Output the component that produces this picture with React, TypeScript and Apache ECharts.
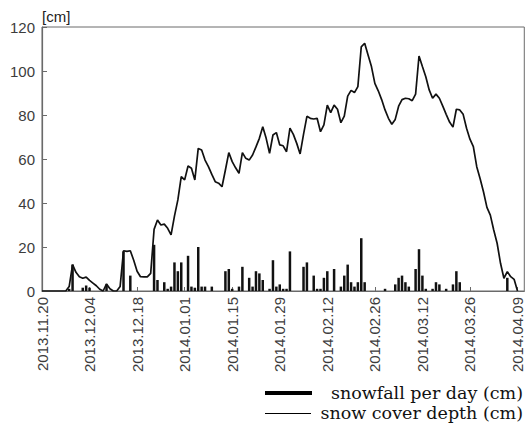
import React, { useEffect, useRef } from "react";
import * as echarts from "echarts";

const tickLabels = [
  "2013.11.20", "2013.12.04", "2013.12.18", "2014.01.01", "2014.01.15", "2014.01.29",
  "2014.02.12", "2014.02.26", "2014.03.12", "2014.03.26", "2014.04.09",
];

// snow cover depth (cm), one value per day from 2013.11.20
const snowDepth = [
  0, 0, 0, 0, 0, 0, 0, 0, 2, 12,
  8.5, 6.5, 5.8, 6.3, 4.8, 3.6, 2.4, 0.8, 0, 3.2,
  1, 0, 0, 2, 18.3, 18, 18.3, 14, 9, 6.5,
  6.4, 6.4, 8, 28, 32.3, 30, 30.4, 28.5, 25.5, 34,
  41.4, 52, 50.5, 56.8, 55.8, 50.5, 64.8, 64.1, 59.5, 56.5,
  53, 49.7, 49, 47.4, 55, 62.9, 58.8, 56, 53.5, 62.9,
  60.3, 59.5, 61.8, 65.5, 69.4, 74.7, 69.4, 62.6, 70.9, 72,
  66.4, 66, 63.3, 74, 71.2, 67.1, 62.3, 71.2, 79.4, 78.5,
  78.2, 78.5, 72.4, 75.5, 84.5, 81.1, 84.5, 82.6, 76.5, 79.5,
  88.6, 91.2, 90.2, 92.9, 111, 112.6, 107.3, 102, 94.4, 91,
  87, 82.3, 78.5, 75.8, 78, 84, 87, 87.6, 87.4, 86.5,
  89.5, 106.8, 102, 97.4, 91.4, 87.6, 89.5, 87.6, 84, 80.3,
  76.8, 74.5, 82.6, 82.3, 80.3, 74, 69, 65.6, 56.5, 51,
  45, 38, 34.5, 27.7, 21.7, 12.6, 5.8, 8.8, 6.5, 5.3,
  0,
];

// snowfall per day (cm)
const snowfall = [
  0, 0, 0, 0, 0, 0, 0, 0, 1, 12,
  0, 0, 1.5, 2.5, 1.5, 0, 0, 0, 0, 3,
  0, 0, 0, 0, 18, 0, 7, 0, 0, 0,
  0, 0, 0, 21, 5, 0, 4, 1, 2, 13,
  9, 13, 0, 16, 2, 1.5, 20, 2, 2, 0,
  2, 0, 0, 0, 9, 10, 1, 0, 2, 11,
  0, 6, 2, 9, 8, 5, 0, 1, 14, 2,
  3, 1, 1, 18, 0, 0, 0, 11, 13, 0,
  7, 1, 1, 6, 9, 0, 10, 0, 2, 7,
  12, 4, 2, 4, 24, 4, 0, 0, 0, 0,
  0, 1, 0, 0, 3, 6, 7, 4, 2, 0,
  10, 19, 7, 1, 0, 1, 4, 3, 0, 1,
  0, 3, 9, 4, 0, 0, 0, 0, 0, 0,
  0, 0, 0, 0, 0, 0, 0, 6, 0, 0,
  0,
];

const legendItems = ["snowfall per day (cm)", "snow cover depth (cm)"];

export default function App() {
  const ref = useRef<HTMLDivElement>(null);
  useEffect(() => {
    const chart = echarts.init(ref.current!, null, { renderer: "svg" });
    const axisColor = "#6a6a6a";
    const labelColor = "#3c3c3c";
    const sans = "'Liberation Sans', Arial, sans-serif";
    const serif = "'DejaVu Serif', 'Liberation Serif', serif";
    chart.setOption({
      animation: false,
      grid: {
        left: 42,
        top: 27,
        width: 484,
        height: 264,
        show: true,
        borderColor: axisColor,
        borderWidth: 1,
      },
      xAxis: {
        type: "value",
        min: 0,
        max: 142,
        interval: 14,
        axisLine: { lineStyle: { color: axisColor, width: 1.2 } },
        axisTick: { inside: true, length: 4, lineStyle: { color: axisColor } },
        splitLine: { show: false },
        axisLabel: {
          rotate: 90,
          margin: 6,
          fontSize: 15,
          fontFamily: sans,
          color: labelColor,
          showMaxLabel: false,
          formatter: (v: number) =>
            v % 14 === 0 && tickLabels[v / 14] !== undefined ? tickLabels[v / 14] : "",
        },
      },
      yAxis: {
        type: "value",
        min: 0,
        max: 120,
        interval: 20,
        name: "[cm]",
        nameLocation: "end",
        nameGap: 3,
        nameTextStyle: {
          align: "left",
          verticalAlign: "bottom",
          fontSize: 15,
          fontFamily: sans,
          color: "#222",
        },
        axisLine: { show: true, lineStyle: { color: axisColor, width: 1.2 } },
        axisTick: { show: true, inside: true, length: 5, lineStyle: { color: axisColor } },
        splitLine: { show: false },
        axisLabel: { margin: 7, fontSize: 15, fontFamily: sans, color: labelColor },
      },
      series: [
        {
          type: "bar",
          data: snowfall.map((v, i) => [i, v]),
          barWidth: 2.5,
          itemStyle: { color: "#111" },
        },
        {
          type: "line",
          data: snowDepth.map((v, i) => [i, v]),
          symbol: "none",
          showSymbol: false,
          lineStyle: { color: "#111", width: 1.7 },
        },
      ],
      graphic: [
        { type: "rect", shape: { x: 265, y: 391, width: 47, height: 4 }, style: { fill: "#000" } },
        {
          type: "line",
          shape: { x1: 265, y1: 413.5, x2: 311, y2: 413.5 },
          style: { stroke: "#000", lineWidth: 1 },
        },
        {
          type: "text",
          x: 523,
          y: 393,
          style: {
            text: legendItems[0],
            align: "right",
            verticalAlign: "middle",
            fontSize: 17.5,
            fontFamily: serif,
            fill: "#111",
          },
        },
        {
          type: "text",
          x: 523,
          y: 413,
          style: {
            text: legendItems[1],
            align: "right",
            verticalAlign: "middle",
            fontSize: 17.5,
            fontFamily: serif,
            fill: "#111",
          },
        },
      ],
    });
    return () => chart.dispose();
  }, []);
  return (
    <div
      ref={ref}
      style={{ position: "absolute", left: 0, top: 0, width: 525, height: 436 }}
    />
  );
}
